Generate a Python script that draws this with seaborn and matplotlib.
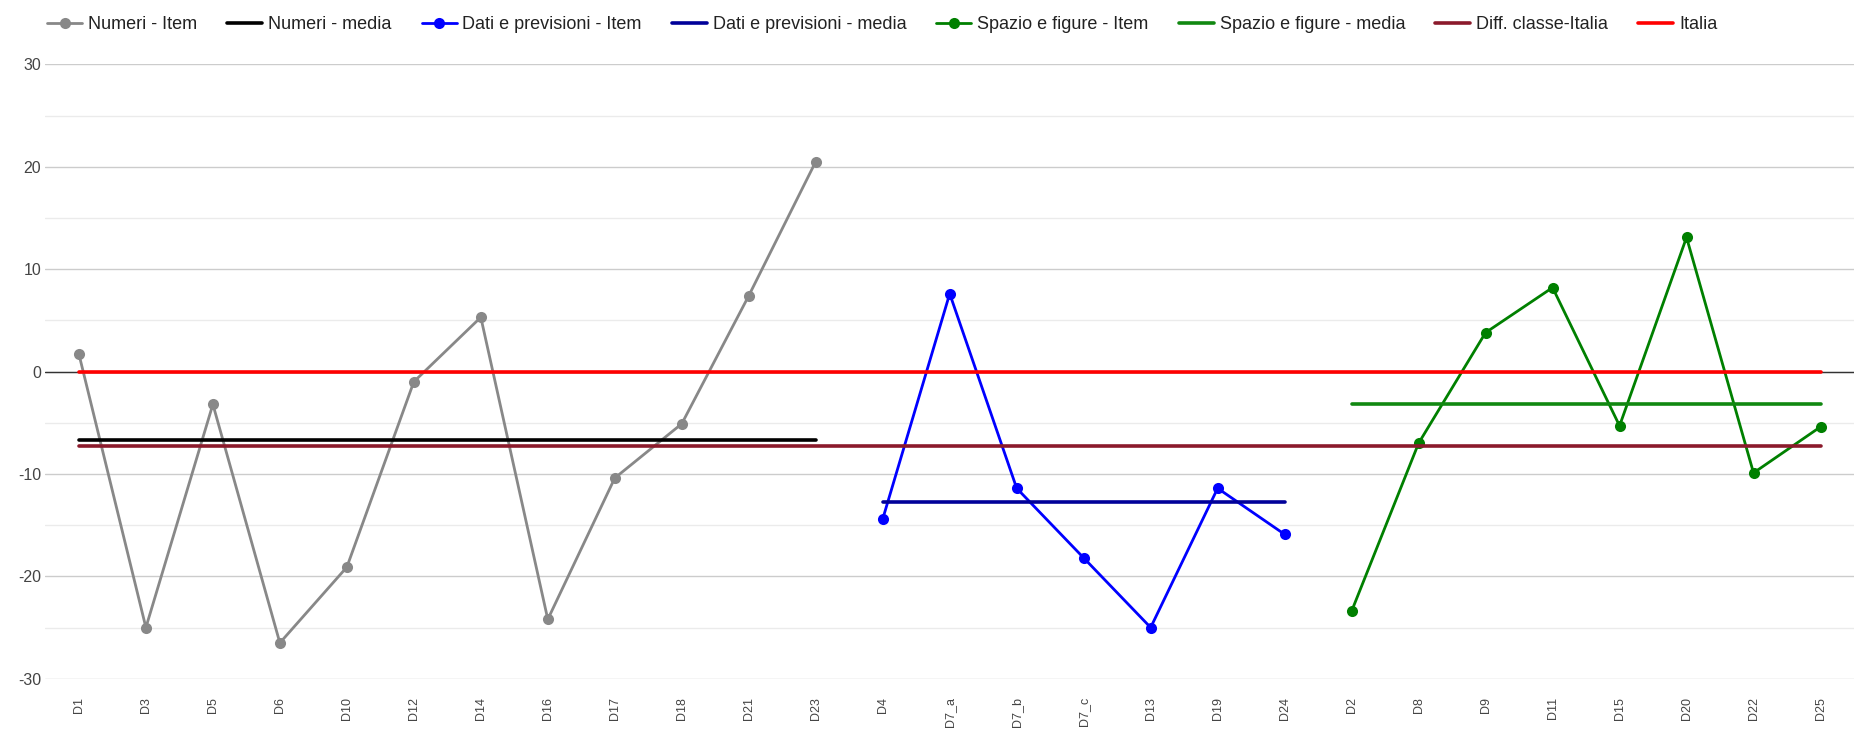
"""
Grafico item per ambito: differenza classe-Italia (seaborn).
"""

import matplotlib
matplotlib.use("Agg")
import matplotlib.pyplot as plt
from matplotlib.ticker import MultipleLocator
import pandas as pd
import seaborn as sns

# --- dati ---
numeri_item = ["D1", "D3", "D5", "D6", "D10", "D12", "D14", "D16", "D17", "D18", "D21", "D23"]
numeri_val = [1.7, -25.0, -3.2, -26.5, -19.1, -1.0, 5.3, -24.2, -10.4, -5.1, 7.4, 20.5]
numeri_media = -6.7

dati_item = ["D4", "D7_a", "D7_b", "D7_c", "D13", "D19", "D24"]
dati_val = [-14.4, 7.6, -11.4, -18.2, -25.0, -11.4, -15.9]
dati_media = -12.7

spazio_item = ["D2", "D8", "D9", "D11", "D15", "D20", "D22", "D25"]
spazio_val = [-23.4, -7.0, 3.8, 8.2, -5.3, 13.1, -9.9, -5.4]
spazio_media = -3.2

diff_classe_italia = -7.3
italia = 0.0

etichette = numeri_item + dati_item + spazio_item


def tabella(nomi, valori, ambito):
    pos = [etichette.index(n) for n in nomi]
    return pd.DataFrame({"pos": pos, "valore": valori, "ambito": ambito})


def main():
    sns.set_style("white")
    plt.rcParams["font.family"] = ["Liberation Sans", "DejaVu Sans"]
    plt.rcParams["axes.unicode_minus"] = False

    fig = plt.figure(figsize=(18.54, 7.31), dpi=100)
    ax = fig.add_axes([0.0245, 0.0715, 0.9755, 0.8405])

    gruppi = [
        (numeri_item, numeri_val, numeri_media, "Numeri", "#888888", "#000000"),
        (dati_item, dati_val, dati_media, "Dati e previsioni", "#0000ff", "#000099"),
        (spazio_item, spazio_val, spazio_media, "Spazio e figure", "#008000", "#118811"),
    ]

    z = 3
    for nomi, valori, media, nome, col, col_media in gruppi:
        df = tabella(nomi, valori, nome)
        sns.lineplot(data=df, x="pos", y="valore", ax=ax, color=col, lw=2.0,
                     marker="o", markersize=8, markeredgewidth=0, zorder=z,
                     label=nome + " - Item")
        df_m = pd.DataFrame({"pos": [df["pos"].min(), df["pos"].max()],
                             "valore": [media, media]})
        sns.lineplot(data=df_m, x="pos", y="valore", ax=ax, color=col_media,
                     lw=2.6, zorder=z + 1, label=nome + " - media")
        z += 2

    estremi = [0, len(etichette) - 1]
    sns.lineplot(x=estremi, y=[diff_classe_italia] * 2, ax=ax, color="#8b1a2b",
                 lw=2.6, zorder=z, label="Diff. classe-Italia")
    sns.lineplot(x=estremi, y=[italia] * 2, ax=ax, color="#ff0000",
                 lw=2.6, zorder=z + 1, label="Italia")

    # linea dello zero e griglia
    ax.axhline(0, color="#333333", lw=1.0, zorder=2)
    ax.set_ylim(-30, 30)
    ax.set_xlim(-0.5, len(etichette) - 0.5)
    ax.yaxis.set_major_locator(MultipleLocator(10))
    ax.yaxis.set_minor_locator(MultipleLocator(5))
    ax.grid(which="major", axis="y", color="#cccccc", lw=1.0, zorder=0)
    ax.grid(which="minor", axis="y", color="#ebebeb", lw=1.0, zorder=0)
    ax.set_axisbelow(True)
    for s in ax.spines.values():
        s.set_visible(False)

    ax.set_xticks(range(len(etichette)))
    ax.set_xticklabels(etichette, rotation=90, fontsize=9, color="#444444")
    ax.tick_params(axis="x", length=0, pad=13)
    ax.tick_params(axis="y", which="both", length=0, pad=3, labelsize=11.5,
                   labelcolor="#444444")
    ax.set_xlabel("")
    ax.set_ylabel("")

    h, l = ax.get_legend_handles_labels()
    ax.get_legend().remove()
    fig.legend(h, l, loc="center left", bbox_to_anchor=(0.0254, 0.966), ncol=8,
               frameon=False, fontsize=13, handlelength=1.94, handletextpad=0.33,
               columnspacing=1.66, borderpad=0, borderaxespad=0,
               labelcolor="#222222")

    fig.savefig("out.png", dpi=100, facecolor="white")


if __name__ == "__main__":
    main()
